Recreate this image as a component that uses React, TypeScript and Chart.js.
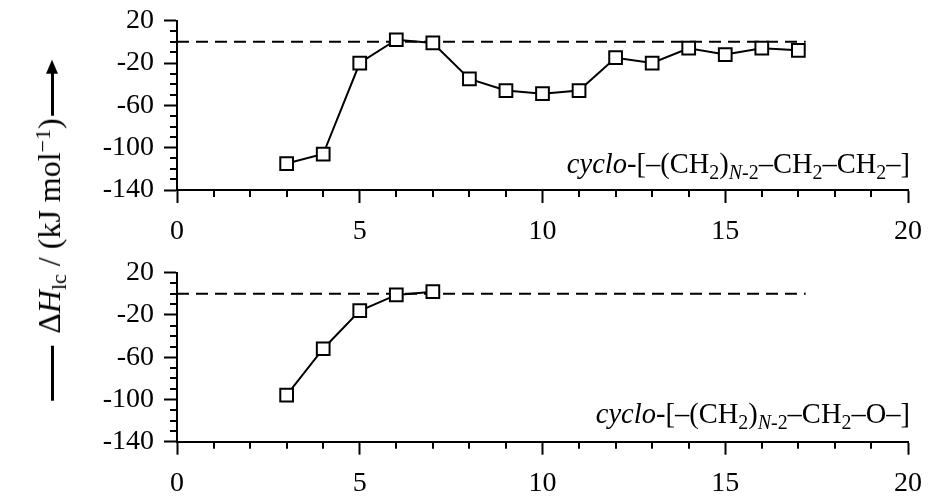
import React, { useEffect, useRef } from 'react';
import { Chart, registerables } from 'chart.js';

Chart.register(...registerables);

// ---- data ----
const ringSizeTop = [3, 4, 5, 6, 7, 8, 9, 10, 11, 12, 13, 14, 15, 16, 17];
const enthalpyTop = [-115, -106, -20, 2, -1, -35, -46, -49, -46, -15, -20, -6, -12, -6, -8];
const ringSizeBottom = [3, 4, 5, 6, 7];
const enthalpyBottom = [-96, -52, -16, -1, 2];
const referenceLineX = [0, 17.2];
const referenceLineY = [0, 0];
const xRange = [0, 20];
const yRange = [-140, 20];
const xMajorStep = 5;
const yMajorStep = 40;
const xMinorStep = 1;
const yMinorStep = 10;

type Seg = { text: string; italic?: boolean; sub?: boolean };
const formulaTop: Seg[] = [
  { text: 'cyclo', italic: true },
  { text: '-[–(CH' },
  { text: '2', sub: true },
  { text: ')' },
  { text: 'N', sub: true, italic: true },
  { text: '-2', sub: true },
  { text: '–CH' },
  { text: '2', sub: true },
  { text: '–CH' },
  { text: '2', sub: true },
  { text: '–]' },
];
const formulaBottom: Seg[] = [
  { text: 'cyclo', italic: true },
  { text: '-[–(CH' },
  { text: '2', sub: true },
  { text: ')' },
  { text: 'N', sub: true, italic: true },
  { text: '-2', sub: true },
  { text: '–CH' },
  { text: '2', sub: true },
  { text: '–O–]' },
];

const FONT = '"Liberation Serif", "Times New Roman", serif';

const minorTicksPlugin = {
  id: 'minorTicks',
  afterDraw(chart: any) {
    const ctx = chart.ctx;
    const xs = chart.scales.x;
    const ys = chart.scales.y;
    const area = chart.chartArea;
    ctx.save();
    ctx.strokeStyle = '#000';
    ctx.lineWidth = 2;
    for (let v = xRange[0]; v <= xRange[1]; v += xMinorStep) {
      if (v % xMajorStep === 0) continue;
      const px = Math.round(xs.getPixelForValue(v));
      ctx.beginPath();
      ctx.moveTo(px, area.bottom);
      ctx.lineTo(px, area.bottom + 7);
      ctx.stroke();
    }
    for (let v = yRange[0]; v <= yRange[1]; v += yMinorStep) {
      if ((v - yRange[0]) % yMajorStep === 0) continue;
      const py = Math.round(ys.getPixelForValue(v));
      ctx.beginPath();
      ctx.moveTo(area.left - 7, py);
      ctx.lineTo(area.left, py);
      ctx.stroke();
    }
    ctx.restore();
  },
};

const formulaPlugin = {
  id: 'formula',
  afterDraw(chart: any, _args: any, opts: any) {
    const segs: Seg[] = opts.segments;
    if (!segs) return;
    const ctx = chart.ctx;
    const size: number = opts.size;
    const fontFor = (s: Seg) => `${s.italic ? 'italic ' : ''}${s.sub ? size * 0.7 : size}px ${FONT}`;
    ctx.save();
    let total = 0;
    const widths = segs.map((s) => {
      ctx.font = fontFor(s);
      const w = ctx.measureText(s.text).width;
      total += w;
      return w;
    });
    let x = chart.chartArea.right + opts.dx - total;
    ctx.fillStyle = '#000';
    ctx.textBaseline = 'alphabetic';
    ctx.textAlign = 'left';
    segs.forEach((s, i) => {
      ctx.font = fontFor(s);
      ctx.fillText(s.text, x, opts.baseline + (s.sub ? size * 0.22 : 0));
      x += widths[i];
    });
    ctx.restore();
  },
};

function makeConfig(xs: number[], ys: number[], padTop: number, xAxisHeight: number, segs: Seg[]) {
  return {
    type: 'line' as const,
    data: {
      datasets: [
        {
          data: xs.map((x, i) => ({ x, y: ys[i] })),
          borderColor: '#000',
          borderWidth: 2,
          pointStyle: 'rect',
          pointRadius: 9,
          pointHoverRadius: 9,
          pointBackgroundColor: '#fff',
          pointBorderColor: '#000',
          pointBorderWidth: 2,
          tension: 0,
          fill: false,
        },
        {
          data: referenceLineX.map((x, i) => ({ x, y: referenceLineY[i] })),
          borderColor: '#000',
          borderWidth: 2,
          borderDash: [12, 7],
          pointRadius: 0,
          fill: false,
        },
      ],
    },
    options: {
      responsive: false,
      animation: false as const,
      events: [],
      layout: { padding: { top: padTop, right: 38, left: 0, bottom: 0 } },
      plugins: {
        legend: { display: false },
        tooltip: { enabled: false },
        formula: { segments: segs, size: 28.5, dx: 2, baseline: 173 },
      },
      scales: {
        x: {
          type: 'linear' as const,
          min: xRange[0],
          max: xRange[1],
          ticks: {
            stepSize: xMajorStep,
            color: '#000',
            font: { family: FONT, size: 28 },
            padding: 12,
            maxRotation: 0,
            autoSkip: false,
          },
          grid: { drawOnChartArea: false, drawTicks: true, tickLength: 13, tickWidth: 2, color: '#000' },
          border: { display: true, color: '#000', width: 2 },
          afterFit: (s: any) => {
            s.height = xAxisHeight;
            s.paddingLeft = 0;
            s.paddingRight = 0;
          },
        },
        y: {
          type: 'linear' as const,
          min: yRange[0],
          max: yRange[1],
          ticks: {
            stepSize: yMajorStep,
            color: '#000',
            font: { family: FONT, size: 28 },
            padding: 10,
            callback: (v: any) => String(v),
          },
          grid: { drawOnChartArea: false, drawTicks: true, tickLength: 13, tickWidth: 2, color: '#000' },
          border: { display: true, color: '#000', width: 2 },
          afterFit: (s: any) => {
            s.width = 177;
            s.paddingTop = 0;
            s.paddingBottom = 0;
          },
        },
      },
    },
    plugins: [minorTicksPlugin, formulaPlugin],
  };
}

function Panel({ xs, ys, top, height, padTop, xAxisHeight, segs }: any) {
  const ref = useRef<HTMLCanvasElement>(null);
  useEffect(() => {
    if (!ref.current) return;
    const chart = new Chart(ref.current, makeConfig(xs, ys, padTop, xAxisHeight, segs) as any);
    return () => chart.destroy();
  }, []);
  return (
    <div style={{ position: 'absolute', left: 0, top, width: 946, height }}>
      <canvas ref={ref} width={946} height={height} style={{ display: 'block' }} />
    </div>
  );
}

export default function App() {
  return (
    <div style={{ position: 'absolute', left: 0, top: 0, width: 946, height: 497, background: '#fff', overflow: 'hidden' }}>
      <Panel xs={ringSizeTop} ys={enthalpyTop} top={0} height={250} padTop={20.7} xAxisHeight={60} segs={formulaTop} />
      <Panel xs={ringSizeBottom} ys={enthalpyBottom} top={250} height={247} padTop={22.7} xAxisHeight={55.3} segs={formulaBottom} />
      <div
        style={{
          position: 'absolute',
          left: 43,
          top: 230,
          transform: 'translate(-50%, -50%) rotate(-90deg)',
          whiteSpace: 'nowrap',
          fontFamily: FONT,
          fontSize: 32,
          lineHeight: '32px',
          height: 32,
          color: '#000',
        }}
      >
        <span style={{ display: 'inline-block', width: 55, height: 3, background: '#000', verticalAlign: 'middle', marginRight: 12 }} />
        <span>Δ</span>
        <i>H</i>
        <span style={{ fontSize: 22, verticalAlign: '-0.3em' }}>lc</span>
        <span> / (kJ mol</span>
        <span style={{ fontSize: 22, verticalAlign: '0.45em' }}>−1</span>
        <span>)</span>
        <span style={{ display: 'inline-block', width: 42, height: 3, background: '#000', verticalAlign: 'middle', marginLeft: 3 }} />
        <span
          style={{
            display: 'inline-block',
            width: 0,
            height: 0,
            borderLeft: '14px solid #000',
            borderTop: '6px solid transparent',
            borderBottom: '6px solid transparent',
            verticalAlign: 'middle',
            position: 'relative',
            top: -1,
          }}
        />
      </div>
    </div>
  );
}
